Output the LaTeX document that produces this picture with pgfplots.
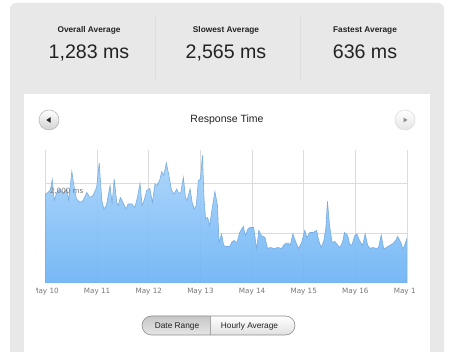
\documentclass[border=0pt]{standalone}
\usepackage{pgfplots}
\pgfplotsset{compat=1.18}
\usepackage{pgfplotstable}
\usepackage{fontspec}
\setmainfont{Liberation Sans}
\newfontfamily\verdana{DejaVu Sans}
\definecolor{panelgray}{HTML}{E8E8E8}
\definecolor{divgray}{HTML}{DDDDDD}
\definecolor{gridgray}{HTML}{DCDCDC}
\definecolor{ticktext}{HTML}{777777}
\definecolor{linecol}{HTML}{78ACDF}
\definecolor{filltop}{HTML}{A9D4FA}
\definecolor{fillbot}{HTML}{6CB3F6}
\definecolor{darktext}{HTML}{222222}

\pgfplotstableread{
x y
0.00 1780
0.05 1810
0.10 1880
0.13 2070
0.17 1650
0.22 1810
0.28 1880
0.34 1780
0.41 1880
0.45 1650
0.51 2230
0.56 1880
0.60 1680
0.67 1610
0.73 1650
0.80 1810
0.86 1710
0.92 1750
0.99 1910
1.04 2400
1.09 1650
1.13 1480
1.18 1550
1.25 1950
1.29 1580
1.33 2080
1.38 1610
1.41 1550
1.45 1710
1.50 1610
1.56 1480
1.60 1580
1.67 1580
1.73 1510
1.78 1710
1.83 1990
1.87 1550
1.91 1650
1.96 1850
2.02 1890
2.07 1610
2.12 1980
2.16 1950
2.21 2050
2.25 2230
2.29 2150
2.34 2400
2.39 2150
2.44 1850
2.49 1780
2.54 1880
2.58 1790
2.62 1810
2.67 2110
2.71 1710
2.74 1650
2.80 1880
2.84 1610
2.88 1480
2.92 1550
2.96 2050
3.00 2080
3.04 2550
3.07 1680
3.10 1280
3.14 1310
3.18 1150
3.23 1510
3.28 1830
3.33 1550
3.36 810
3.41 980
3.45 750
3.50 730
3.57 730
3.60 810
3.65 850
3.71 810
3.76 1010
3.83 1130
3.87 950
3.92 1080
3.96 1110
4.03 1110
4.09 680
4.13 1050
4.18 950
4.25 910
4.30 690
4.36 710
4.42 690
4.50 710
4.57 690
4.63 780
4.70 800
4.74 760
4.79 980
4.85 810
4.90 690
4.96 810
5.02 1050
5.06 910
5.12 1010
5.18 1010
5.25 1050
5.29 850
5.34 710
5.39 850
5.43 1110
5.46 1630
5.50 1150
5.55 810
5.60 830
5.64 780
5.70 710
5.75 810
5.79 1010
5.85 950
5.89 780
5.93 750
5.99 950
6.03 980
6.08 850
6.14 750
6.19 980
6.24 750
6.29 690
6.34 710
6.41 690
6.45 710
6.50 960
6.55 680
6.60 710
6.66 750
6.73 790
6.78 850
6.82 930
6.88 810
6.92 680
6.95 750
7.00 890
}\resp

\begin{document}
\begin{tikzpicture}
\useasboundingbox (0,0) rectangle (450pt,352pt);
\begin{scope}[x=1pt,y=-1pt,shift={(0,352pt)}]
  % outer gray panel
  \fill[panelgray, rounded corners=6pt] (10,3) rectangle (444,372);
  % inner white panel
  \fill[white] (24,94) rectangle (430,360);
  % dividers
  \draw[divgray, line width=0.6pt] (155,15) -- (155,80);
  \draw[divgray, line width=0.6pt] (300,15) -- (300,80);
  % stats
  \node[anchor=base, font=\bfseries\fontsize{8.3}{10}\selectfont, text=darktext] at (89,32.7) {Overall Average};
  \node[anchor=base, font=\fontsize{19.6}{22}\selectfont, text=darktext] at (89,58.3) {1,283 ms};
  \node[anchor=base, font=\bfseries\fontsize{8.3}{10}\selectfont, text=darktext] at (226,32.7) {Slowest Average};
  \node[anchor=base, font=\fontsize{19.6}{22}\selectfont, text=darktext] at (226,58.3) {2,565 ms};
  \node[anchor=base, font=\bfseries\fontsize{8.3}{10}\selectfont, text=darktext] at (365,32.7) {Fastest Average};
  \node[anchor=base, font=\fontsize{19.6}{22}\selectfont, text=darktext] at (365,58.3) {636 ms};
  % title
  \node[anchor=base, font=\fontsize{10.5}{12}\selectfont, text=darktext] at (227,122.5) {Response Time};
  % nav buttons
  \shade[top color=white, bottom color=black!18, draw=black!30, line width=0.5pt] (49,120) circle (10pt);
  \fill[black!85] (46.3,120) -- (50.5,117.2) -- (50.5,122.8) -- cycle;
  \shade[top color=white, bottom color=black!10, draw=black!15, line width=0.5pt] (405,120) circle (10pt);
  \fill[black!45] (407.5,120) -- (403.5,117.6) -- (403.5,122.4) -- cycle;
  % pill buttons
  \begin{scope}
    \clip[rounded corners=9.5pt] (142,316) rectangle (295,335);
    \shade[top color=white, bottom color=black!12] (142,316) rectangle (295,335);
    \shade[top color=black!22, bottom color=black!10] (142,316) rectangle (210,335);
    \draw[black!35, line width=0.5pt] (210,316) -- (210,335);
  \end{scope}
  \draw[black!45, line width=0.6pt, rounded corners=9.5pt] (142,316) rectangle (295,335);
  \node[anchor=base, font=\fontsize{8.3}{10}\selectfont, text=darktext] at (177,328.3) {Date Range};
  \node[anchor=base, font=\fontsize{8.3}{10}\selectfont, text=darktext] at (249.5,328.3) {Hourly Average};
\end{scope}

\begin{axis}[
  at={(45.5pt,69pt)}, anchor=south west,
  scale only axis, width=361.5pt, height=133pt,
  xmin=0, xmax=7, ymin=0, ymax=2660,
  axis line style={draw=none},
  major tick length=0pt,
  xtick={0,1,2,3,4,5,6,7},
  xticklabels={May 10,May 11,May 12,May 13,May 14,May 15,May 16,May 17},
  ytick={1000,2000}, yticklabels={},
  xmajorgrids, ymajorgrids,
  grid style={gridgray, line width=0.6pt},
  xticklabel style={font=\verdana\fontsize{7.2}{8}\selectfont, text=ticktext, yshift=-1.5pt},
]
\addplot[draw=linecol, line width=0.6pt, top color=filltop, bottom color=fillbot, fill opacity=0.92] table[x=x,y=y] {\resp} \closedcycle;
\node[font=\verdana\fontsize{7.2}{8}\selectfont, text=ticktext] at (axis cs:0.41,1830) {2,000 ms};
\end{axis}

\begin{scope}[x=1pt,y=-1pt,shift={(0,352pt)}]
  \fill[white] (24,285) rectangle (36,299);
  \fill[white] (416,285) rectangle (430,299);
\end{scope}
\end{tikzpicture}
\end{document}
